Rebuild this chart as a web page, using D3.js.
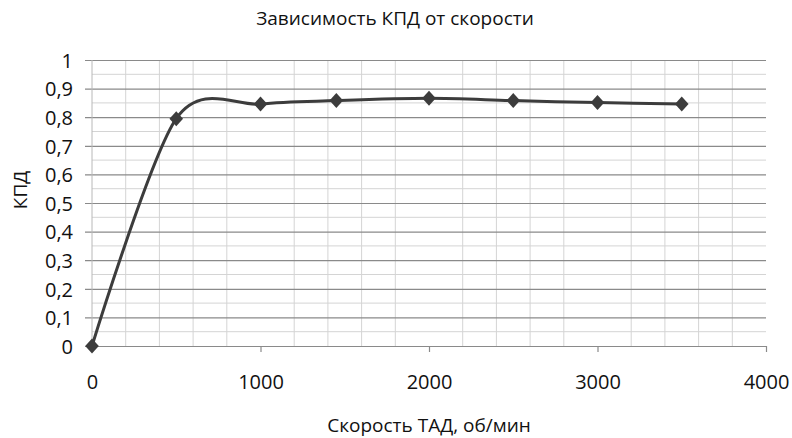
<!DOCTYPE html>
<html>
<head>
<meta charset="utf-8">
<script src="https://cdn.jsdelivr.net/npm/d3@7"></script>
<style>
  html, body { margin: 0; padding: 0; background: #fff; }
  svg { display: block; }
  text { font-family: "Open Sans", "DejaVu Sans", sans-serif; fill: #111; }
</style>
</head>
<body>
<svg id="chart" width="792" height="438"></svg>
<script>
// Speed of the traction motor, rpm
const speeds = [0, 500, 1000, 1450, 2000, 2500, 3000, 3500];
// Efficiency at each speed
const efficiency = [0, 0.795, 0.846, 0.858, 0.866, 0.858, 0.851, 0.846];
// Axis tick labels
const xTicks = [0, 1000, 2000, 3000, 4000];
const yTicks = [0, 0.1, 0.2, 0.3, 0.4, 0.5, 0.6, 0.7, 0.8, 0.9, 1];

const titleText = "Зависимость КПД от скорости";
const xTitle = "Скорость ТАД, об/мин";
const yTitle = "КПД";

const svg = d3.select("#chart");
const plot = { left: 92, right: 766, top: 60, bottom: 346 };

const x = d3.scaleLinear().domain([0, 4000]).range([plot.left, plot.right]);
const y = d3.scaleLinear().domain([0, 1]).range([plot.bottom, plot.top]);

const fmt = v => String(+v.toFixed(1)).replace(".", ",");

// minor grid (every 200 rpm, every 0.05)
const g = svg.append("g");
g.selectAll("line.vminor")
  .data(d3.range(200, 4001, 200).filter(v => v % 1000 !== 0))
  .join("line")
  .attr("x1", d => x(d)).attr("x2", d => x(d))
  .attr("y1", plot.top).attr("y2", plot.bottom)
  .attr("stroke", "#d4d4d4").attr("stroke-width", 1);
g.selectAll("line.hminor")
  .data(d3.range(0.05, 1, 0.1))
  .join("line")
  .attr("x1", plot.left).attr("x2", plot.right)
  .attr("y1", d => y(d)).attr("y2", d => y(d))
  .attr("stroke", "#d4d4d4").attr("stroke-width", 1);

// major grid with tick labels
const yAxis = d3.axisLeft(y).tickValues(yTicks).tickFormat(fmt)
  .tickSize(-(plot.right - plot.left)).tickPadding(12);
const ya = svg.append("g").attr("transform", `translate(${plot.left},0)`).call(yAxis);
ya.select(".domain").remove();
ya.selectAll(".tick line").attr("stroke", "#8a8a8a").attr("stroke-width", 1.2).attr("x1", -7);
ya.selectAll(".tick text").attr("font-size", 20).attr("x", -19).attr("dy", "0.36em");

const xAxis = d3.axisBottom(x).tickValues(xTicks).tickFormat(d3.format("d"))
  .tickSize(-(plot.bottom - plot.top)).tickPadding(0);
const xa = svg.append("g").attr("transform", `translate(0,${plot.bottom})`).call(xAxis);
xa.select(".domain").remove();
xa.selectAll(".tick line").attr("stroke", "#8a8a8a").attr("stroke-width", 1.2).attr("y2", 6);
xa.selectAll(".tick text").attr("font-size", 20).attr("y", 36).attr("dy", "0.36em");

// left axis line
svg.append("line")
  .attr("x1", plot.left).attr("x2", plot.left).attr("y1", plot.top).attr("y2", plot.bottom)
  .attr("stroke", "#b8b8b8");

// smoothed data line
const pts = speeds.map((s, i) => [s, efficiency[i]]);
const line = d3.line().x(d => x(d[0])).y(d => y(d[1])).curve(d3.curveCardinal.tension(0.1));
svg.append("path")
  .datum(pts)
  .attr("d", line)
  .attr("fill", "none")
  .attr("stroke", "#3c3c3c")
  .attr("stroke-width", 3)
  .attr("stroke-linejoin", "round");

// diamond markers
svg.selectAll("path.marker")
  .data(pts)
  .join("path")
  .attr("class", "marker")
  .attr("transform", d => `translate(${x(d[0])},${y(d[1])})`)
  .attr("d", "M0,-7.5L6.8,0L0,7.5L-6.8,0Z")
  .attr("fill", "#3c3c3c");

// titles
svg.append("text")
  .attr("x", 395).attr("y", 25)
  .attr("text-anchor", "middle").attr("font-size", 19)
  .text(titleText);
svg.append("text")
  .attr("x", 429).attr("y", 432)
  .attr("text-anchor", "middle").attr("font-size", 19)
  .text(xTitle);
svg.append("text")
  .attr("transform", "translate(27,190) rotate(-90)")
  .attr("text-anchor", "middle").attr("font-size", 19)
  .text(yTitle);
</script>
</body>
</html>
